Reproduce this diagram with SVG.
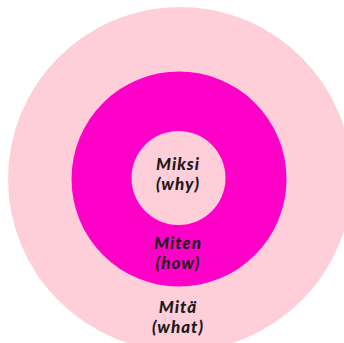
<svg xmlns="http://www.w3.org/2000/svg" width="344" height="343" viewBox="0 0 344 343">
<style>
.t{font-family:Lato,"Open Sans",sans-serif;font-weight:900;font-style:italic;font-size:17px;letter-spacing:1px;fill:#1e1a1c;text-anchor:middle}
</style>
<rect width="344" height="343" fill="#ffffff"/>
<g id="what">
<circle cx="180" cy="179" r="172" fill="#ffcfd9"/>
<text class="t" x="178" y="313">Mitä</text>
<text class="t" x="178" y="333">(what)</text>
</g>
<g id="how">
<circle cx="179" cy="179" r="107.5" fill="#ff00c8"/>
<text class="t" x="178" y="249">Miten</text>
<text class="t" x="178" y="269">(how)</text>
</g>
<g id="why">
<circle cx="178.5" cy="178" r="47" fill="#ffcfd9"/>
<text class="t" x="178" y="170">Miksi</text>
<text class="t" x="178" y="190">(why)</text>
</g>
<g id="connectors"/>
</svg>
